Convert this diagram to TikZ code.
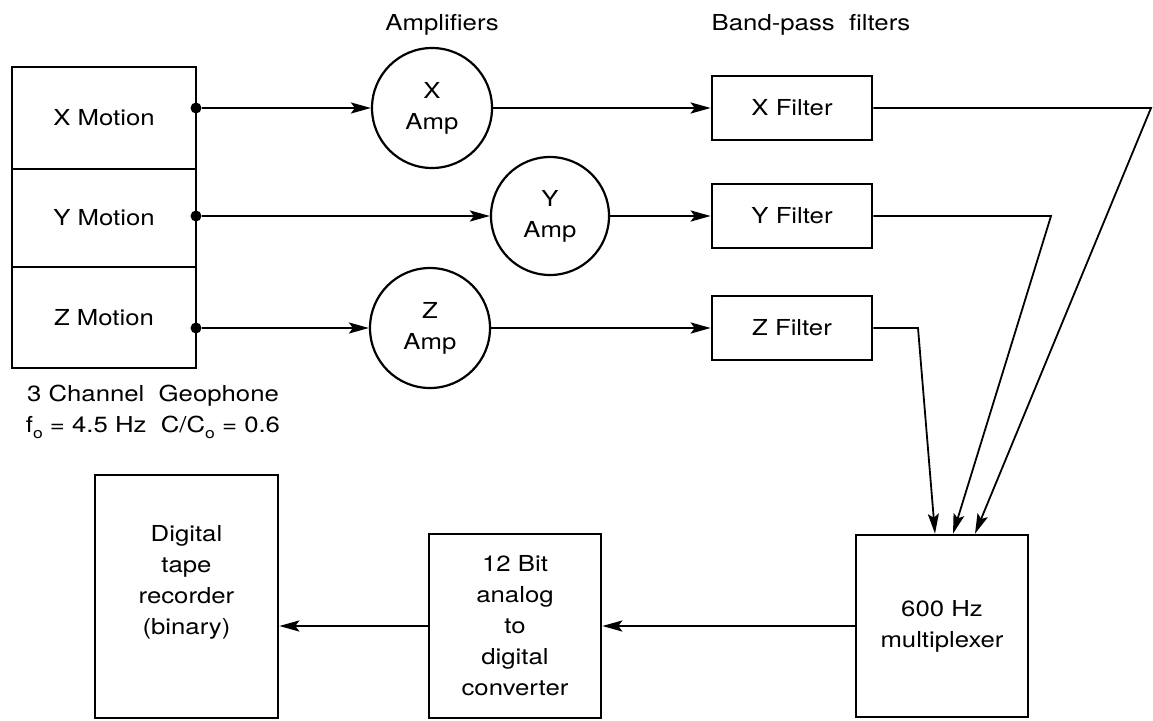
\documentclass[tikz,border=0pt]{standalone}
\usepackage{fontspec}
\setmainfont[FakeStretch=1.17]{TeX Gyre Heros}
\usetikzlibrary{arrows.meta}
\newcommand\subo{\raisebox{-6pt}{\fontsize{15}{15}\selectfont o}}
\begin{document}
\begin{tikzpicture}[x=1pt,y=-1pt,
  every node/.style={font=\fontsize{22}{31}\selectfont},
  box/.style={draw, line width=2.6pt, align=center, inner sep=0pt},
  amp/.style={draw, circle, line width=2.2pt, align=center, inner sep=0pt},
  wire/.style={line width=2.5pt},
  fwire/.style={line width=1.8pt},
  arr/.style={-{Stealth[length=20pt,width=11pt,inset=4pt]}},
  jdot/.style={circle, fill, inner sep=0pt, minimum size=11pt}]
\useasboundingbox (0,0) rectangle (1153,720);

% geophone
\node[box, minimum width=184, minimum height=102] (gx) at (104,118) {X Motion};
\node[box, minimum width=184, minimum height=98] (gy) at (104,218) {Y Motion};
\node[box, minimum width=184, minimum height=101] (gz) at (104,317.5) {Z Motion};
\node[align=center] (cap) at (153,412) {3 Channel~ Geophone\\f\subo{} = 4.5 Hz~ C/C\subo{} = 0.6};

\node[jdot] (dx) at (196,108) {};
\node[jdot] (dy) at (196,216) {};
\node[jdot] (dz) at (196,328) {};

% amplifiers
\node (lamp) at (442,25) {Amplifiers};
\node[amp, minimum size=120] (ax) at (432,108) {X\\Amp};
\node[amp, minimum size=118] (ay) at (550,216) {Y\\Amp};
\node[amp, minimum size=120] (az) at (430,328) {Z\\Amp};

% filters
\node (lbp) at (811,25) {Band-pass~ filters};
\node[box, minimum width=160, minimum height=64] (fx) at (792,108) {X Filter};
\node[box, minimum width=160, minimum height=64] (fy) at (792,216) {Y Filter};
\node[box, minimum width=160, minimum height=64] (fz) at (792,328) {Z Filter};

% bottom row
\node[box, minimum width=172, minimum height=182] (mux) at (942,626) {600 Hz\\multiplexer};
\node[box, minimum width=172, minimum height=184] (adc) at (515,626) {12 Bit\\analog\\to\\digital\\converter};
\node[box, minimum width=183, minimum height=243,
  label={[yshift=14pt, align=center]center:Digital\\tape\\recorder\\(binary)}] (rec) at (186.5,596.5) {};

% connectors
\draw[wire,arr] (dx) -- (ax);
\draw[wire,arr] (dy) -- (ay);
\draw[wire,arr] (dz) -- (az);
\draw[wire,arr] (ax) -- (fx);
\draw[wire,arr] (ay) -- (fy);
\draw[wire,arr] (az) -- (fz);

\coordinate (cx) at (1151,108);
\coordinate (cy) at (1051,216);
\coordinate (cz) at (918,328);
\draw[fwire,arr] (fx.east) -- (cx) -- ([xshift=33pt]mux.north);
\draw[fwire,arr] (fy.east) -- (cy) -- ([xshift=11pt]mux.north);
\draw[fwire,arr] (fz.east) -- (cz) -- ([xshift=-7pt]mux.north);

\draw[wire,arr] (mux.west) -- (adc.east);
\draw[wire,arr] (adc.west) -- (adc.west -| rec.east);
\end{tikzpicture}
\end{document}
